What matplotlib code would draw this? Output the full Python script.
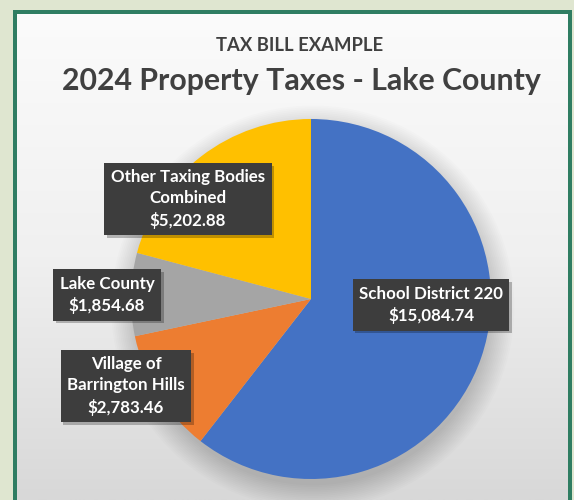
import numpy as np
import matplotlib
matplotlib.use("Agg")
import matplotlib.pyplot as plt
from matplotlib.patches import Rectangle, Circle
import matplotlib.patheffects as pe

plt.rcParams['font.family'] = ['Lato', 'DejaVu Sans']
plt.rcParams['hatch.color'] = '#666666'
plt.rcParams['hatch.linewidth'] = 1.3

# data
categories = ['School District 220', 'Village of\nBarrington Hills', 'Lake County',
              'Other Taxing Bodies\nCombined']
amounts = [15084.74, 2783.46, 1854.68, 5202.88]
colors = ['#4472C4', '#ED7D31', '#A5A5A5', '#FFC000']

# label box centers in pixels (from top-left)
label_px = [(431, 305), (126, 386), (107, 295), (188, 199)]

W, H = 574, 500
fig = plt.figure(figsize=(W / 100, H / 100), dpi=100)
fig.patch.set_facecolor('#dfe6d0')

# green frame + gradient panel
bg = fig.add_axes([0, 0, 1, 1])
bg.set_xlim(0, W)
bg.set_ylim(H, 0)
bg.axis('off')
bg.add_patch(Rectangle((13, 10), 559, 500, color='#2f7d62', lw=0))
grad = np.linspace(0, 1, 256)[:, None]
cmap = matplotlib.colors.LinearSegmentedColormap.from_list('g', ['#fbfbfb', '#f0f0f0', '#d8d8d8'])
bg.imshow(grad, extent=(17, 568, H, 14), cmap=cmap, aspect='auto', zorder=1)

# titles
bg.text(300, 51, 'TAX BILL EXAMPLE', ha='center', va='baseline', fontsize=13.3,
        fontweight='bold', color='#404040', zorder=3)
bg.text(301, 90, '2024 Property Taxes - Lake County', ha='center', va='baseline',
        fontsize=21.8, fontweight='bold', color='#404040', zorder=3)

# pie
cx, cy, r = 311, 299, 180
ax = fig.add_axes([(cx - r * 1.3) / W, (H - cy - r * 1.3) / H, 2.6 * r / W, 2.6 * r / H])
ax.axis('off')

# soft shadow below the pie
for i in range(14):
    ax.add_patch(Circle((0.01, -0.045), 0.99 + i * 0.01, color='black', alpha=0.013, lw=0, zorder=0))

ax.pie(amounts, colors=colors, startangle=90, counterclock=False, radius=1,
       wedgeprops=dict(linewidth=0))
ax.set_xlim(-1.3, 1.3)
ax.set_ylim(-1.3, 1.3)

# overlay for the data labels
top = fig.add_axes([0, 0, 1, 1])
top.set_xlim(0, W)
top.set_ylim(H, 0)
top.axis('off')
top.patch.set_alpha(0)

for cat, val, (px, py) in zip(categories, amounts, label_px):
    t = top.text(px, py, f'{cat}\n${val:,.2f}', ha='center', va='center',
                 fontsize=12.2, fontweight='bold', color='white', linespacing=1.38,
                 zorder=5,
                 bbox=dict(boxstyle='square,pad=0.38', facecolor='#3d3d3d',
                           edgecolor='none', hatch='..'))
    t.get_bbox_patch().set_path_effects([
        pe.SimplePatchShadow(offset=(2, -2), shadow_rgbFace='black', alpha=0.25),
        pe.Normal()])

fig.savefig('out.png', dpi=100, facecolor=fig.get_facecolor())
